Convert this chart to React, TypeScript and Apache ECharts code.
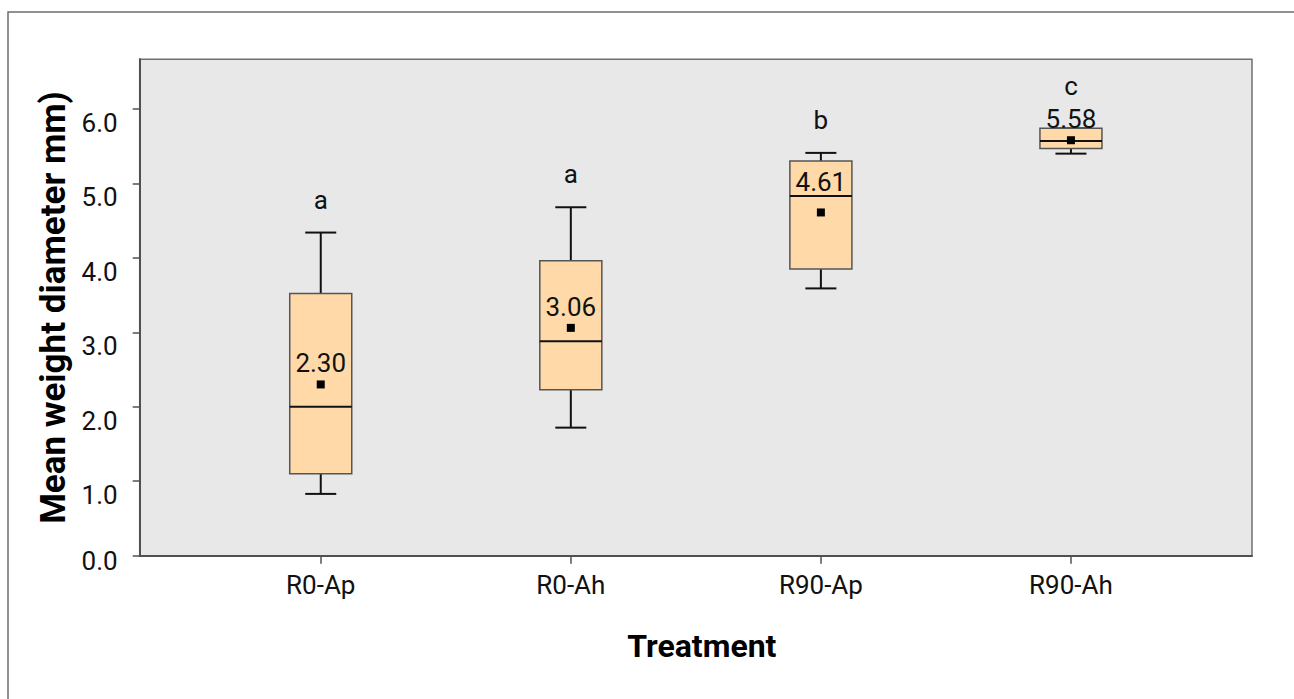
import React, { useEffect, useRef } from 'react';
import * as echarts from 'echarts';

const categories = ['R0-Ap', 'R0-Ah', 'R90-Ap', 'R90-Ah'];
const lows = [0.83, 1.72, 3.59, 5.4];
const q1s = [1.1, 2.23, 3.85, 5.47];
const medians = [2.0, 2.88, 4.83, 5.57];
const q3s = [3.52, 3.96, 5.3, 5.74];
const highs = [4.34, 4.68, 5.41, 5.74];
const means = [2.3, 3.06, 4.61, 5.58];
const letters = ['a', 'a', 'b', 'c'];
const yTicks = [0, 1, 2, 3, 4, 5, 6];
const xTicks = [0, 1, 2, 3];

const FONT = 'Roboto, "Liberation Sans", Arial, sans-serif';

export default function App() {
  const ref = useRef<HTMLDivElement>(null);
  useEffect(() => {
    const chart = echarts.init(ref.current!, null, { renderer: 'svg' });
    const data = categories.map((_, i) => [i, lows[i], q1s[i], medians[i], q3s[i], highs[i], means[i]]);

    const renderItem = (params: any, api: any) => {
      const i = api.value(0);
      const idx = params.dataIndex;
      const unit = api.size([1, 0])[0];
      const bw = unit * 0.248;
      const cw = unit * 0.124;
      const x = api.coord([i, 0])[0];
      const yLow = api.coord([i, api.value(1)])[1];
      const yQ1 = api.coord([i, api.value(2)])[1];
      const yMed = api.coord([i, api.value(3)])[1];
      const yQ3 = api.coord([i, api.value(4)])[1];
      const yHigh = api.coord([i, api.value(5)])[1];
      const mean = api.value(6);
      const yMean = api.coord([i, mean])[1];
      const labelY = Math.min(yMean - 21, yMed - 14);
      const letterY = Math.min(yHigh - 33, labelY - 33);
      const wStyle = { stroke: '#111', lineWidth: 2 };
      return {
        type: 'group',
        children: [
          { type: 'line', shape: { x1: x, y1: yHigh, x2: x, y2: yQ3 }, style: wStyle },
          { type: 'line', shape: { x1: x, y1: yQ1, x2: x, y2: yLow }, style: wStyle },
          { type: 'line', shape: { x1: x - cw / 2, y1: yHigh, x2: x + cw / 2, y2: yHigh }, style: wStyle },
          { type: 'line', shape: { x1: x - cw / 2, y1: yLow, x2: x + cw / 2, y2: yLow }, style: wStyle },
          {
            type: 'rect',
            shape: { x: x - bw / 2, y: yQ3, width: bw, height: yQ1 - yQ3 },
            style: { fill: '#FFDAA8', stroke: '#555', lineWidth: 1.5 },
          },
          { type: 'line', shape: { x1: x - bw / 2, y1: yMed, x2: x + bw / 2, y2: yMed }, style: { stroke: '#111', lineWidth: 2 } },
          { type: 'rect', shape: { x: x - 4, y: yMean - 4, width: 8, height: 8 }, style: { fill: '#000' } },
          {
            type: 'text',
            x: x,
            y: labelY,
            style: { text: mean.toFixed(2), fill: '#111', fontSize: 26, fontFamily: FONT, align: 'center', verticalAlign: 'middle' },
          },
          {
            type: 'text',
            x: x,
            y: letterY,
            style: { text: letters[idx], fill: '#111', fontSize: 26, fontFamily: FONT, align: 'center', verticalAlign: 'middle' },
          },
        ],
      };
    };

    chart.setOption({
      animation: false,
      backgroundColor: '#fff',
      graphic: [
        {
          type: 'rect',
          shape: { x: 8, y: 12, width: 1300, height: 700 },
          style: { fill: 'none', stroke: '#6e6e6e', lineWidth: 1.5 },
          silent: true,
          z: -10,
        },
      ],
      grid: {
        left: 139.7,
        top: 59.3,
        right: 42,
        bottom: 143.3,
        show: true,
        backgroundColor: '#e8e8e8',
        borderColor: '#707070',
        borderWidth: 1.5,
      },
      xAxis: {
        type: 'value',
        min: -0.724,
        max: 3.724,
        name: 'Treatment',
        nameLocation: 'middle',
        nameGap: 74,
        nameTextStyle: { fontFamily: FONT, fontWeight: 'bold', fontSize: 32, color: '#000', padding: [0, 0, 0, 12] },
        axisLine: { show: true, onZero: false, lineStyle: { color: '#505050', width: 2 } },
        axisTick: { show: true, customValues: xTicks, length: 8, lineStyle: { color: '#505050', width: 1.5 } },
        axisLabel: {
          customValues: xTicks,
          formatter: (v: number) => categories[Math.round(v)],
          margin: 16,
          fontFamily: FONT,
          fontSize: 26,
          color: '#111',
        },
        splitLine: { show: false },
      },
      yAxis: {
        type: 'value',
        min: 0,
        max: 6.667,
        name: 'Mean weight diameter mm)',
        nameLocation: 'middle',
        nameGap: 68,
        nameTextStyle: { fontFamily: FONT, fontWeight: 'bold', fontSize: 35, color: '#000' },
        axisLine: { show: true, onZero: false, lineStyle: { color: '#505050', width: 2 } },
        axisTick: { show: true, customValues: yTicks, length: 7, lineStyle: { color: '#505050', width: 1.5 } },
        axisLabel: {
          customValues: yTicks,
          formatter: (v: number) => (v === 0 ? `{z|${v.toFixed(1)}}` : `{n|${v.toFixed(1)}}`),
          margin: 22,
          fontFamily: FONT,
          fontSize: 26,
          color: '#111',
          rich: {
            n: { padding: [28, 0, 0, 0], fontFamily: FONT, fontSize: 26, color: '#111' },
            z: { padding: [10, 0, 0, 0], fontFamily: FONT, fontSize: 26, color: '#111' },
          },
        },
        splitLine: { show: false },
      },
      series: [
        {
          type: 'custom',
          renderItem,
          data,
          encode: { x: 0, y: [1, 2, 3, 4, 5, 6] },
          clip: false,
        },
      ],
    });
    return () => chart.dispose();
  }, []);
  return (
    <div
      ref={ref}
      style={{ position: 'fixed', left: 0, top: 0, width: 1294, height: 699, background: '#fff' }}
    />
  );
}
